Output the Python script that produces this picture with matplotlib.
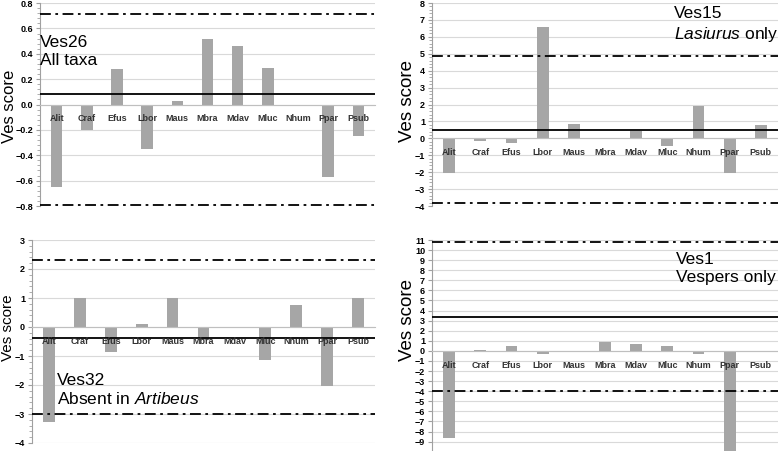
"""
Ves score bar panels (four loci)
"""
import matplotlib
matplotlib.use('Agg')
import matplotlib.pyplot as plt
from matplotlib.ticker import MultipleLocator, AutoMinorLocator

plt.rcParams['font.family'] = ['Liberation Sans', 'DejaVu Sans']
plt.rcParams['mathtext.fontset'] = 'custom'
plt.rcParams['mathtext.rm'] = 'Liberation Sans'
plt.rcParams['mathtext.it'] = 'Liberation Sans:italic'

taxa = ['Alit', 'Craf', 'Efus', 'Lbor', 'Maus', 'Mbra', 'Mdav', 'Mluc', 'Nhum', 'Ppar', 'Psub']

# Ves26, all taxa
ves26 = [-0.647, -0.20, 0.28, -0.347, 0.03, 0.52, 0.463, 0.287, 0.0, -0.574, -0.25]
ves26_mean = 0.082
ves26_lims = [0.71, -0.795]

# Ves15, Lasiurus only
ves15 = [-2.06, -0.14, -0.30, 6.60, 0.84, 0.0, 0.45, -0.43, 1.90, -2.04, 0.80]
ves15_mean = 0.51
ves15_lims = [4.84, -3.84]

# Ves32, absent in Artibeus
ves32 = [-3.28, 1.0, -0.86, 0.11, 1.0, -0.45, 0.0, -1.14, 0.75, -2.03, 1.0]
ves32_mean = -0.38
ves32_lims = [2.32, -2.99]

# Ves1, vespers only
ves1 = [-8.68, 0.10, 0.53, -0.30, 0.0, 0.86, 0.73, 0.50, -0.30, -10.2, 0.0]
ves1_mean = 3.34
ves1_lims = [10.83, -3.97]

W, H = 778, 451
fig = plt.figure(figsize=(W / 100, H / 100), dpi=100)


def px_axes(x0, x1, y0, y1):
    return fig.add_axes([x0 / W, 1 - y1 / H, (x1 - x0) / W, (y1 - y0) / H])


def panel(ax, vals, mean, lims, ylim, major, minor, label_lines, tx, ty, ylab_pos, ylab_size):
    x = range(len(taxa))
    ax.bar(x, vals, width=0.38, color='#A6A6A6', zorder=2)
    ax.axhline(mean, color='black', lw=1.3, zorder=3)
    for v in lims:
        ax.axhline(v, color='black', lw=1.3, ls=(0, (6, 2.5, 1.5, 2.5)), zorder=3)
    ax.set_xlim(-0.55, len(taxa) - 0.45)
    ax.set_ylim(*ylim)
    ax.yaxis.set_major_locator(MultipleLocator(major))
    if minor:
        ax.yaxis.set_minor_locator(AutoMinorLocator(minor))
    ax.grid(axis='y', color='#D9D9D9', lw=0.8, zorder=0)
    ax.set_axisbelow(True)
    for s in ['top', 'right']:
        ax.spines[s].set_visible(False)
    ax.spines['left'].set_color('#A0A0A0')
    ax.spines['bottom'].set_position(('data', 0))
    ax.spines['bottom'].set_color('#BFBFBF')
    ax.set_xticks([])
    # category names sit just under the zero line, drawn over the bars
    for i, name in enumerate(taxa):
        ax.annotate(name, (i, 0), xytext=(0, -7), textcoords='offset points',
                    ha='center', va='top', fontsize=6.5, fontweight='bold',
                    color='#333333', zorder=5, annotation_clip=False)
    ax.tick_params(axis='y', which='major', labelsize=6.5, length=3, color='#A0A0A0', pad=2)
    ax.tick_params(axis='y', which='minor', length=2, color='#A0A0A0')
    for t in ax.get_yticklabels():
        t.set_fontweight('bold')
    ax.text(tx, ty, label_lines, transform=ax.transAxes, fontsize=12.5,
            va='top', ha='left', linespacing=1.25, zorder=4)
    ax.set_ylabel('Ves score', fontsize=ylab_size)
    ax.yaxis.set_label_coords(*ylab_pos)


ax1 = px_axes(40, 375, 3, 206)
panel(ax1, ves26, ves26_mean, ves26_lims, (-0.8, 0.8005), 0.2, 5,
      'Ves26\nAll taxa', 0.0, 0.84, (-0.069, 0.49), 12)

ax2 = px_axes(432, 778, 3, 206)
panel(ax2, ves15, ves15_mean, ves15_lims, (-4, 8), 1, 5,
      'Ves15\n$\\mathit{Lasiurus}$ only', 0.70, 0.985, (-0.045, 0.517), 13.5)

ax3 = px_axes(32, 375, 240, 443)
panel(ax3, ves32, ves32_mean, ves32_lims, (-4, 3), 1, 5,
      'Ves32\nAbsent in $\\mathit{Artibeus}$', 0.073, 0.345, (-0.05, 0.57), 11)

ax4 = px_axes(432, 778, 240, 451)
panel(ax4, ves1, ves1_mean, ves1_lims, (-9.93, 11), 1, None,
      'Ves1\nVespers only', 0.705, 0.945, (-0.047, 0.62), 13.5)

plt.savefig('out.png', dpi=100)
print('Saved: out.png')
